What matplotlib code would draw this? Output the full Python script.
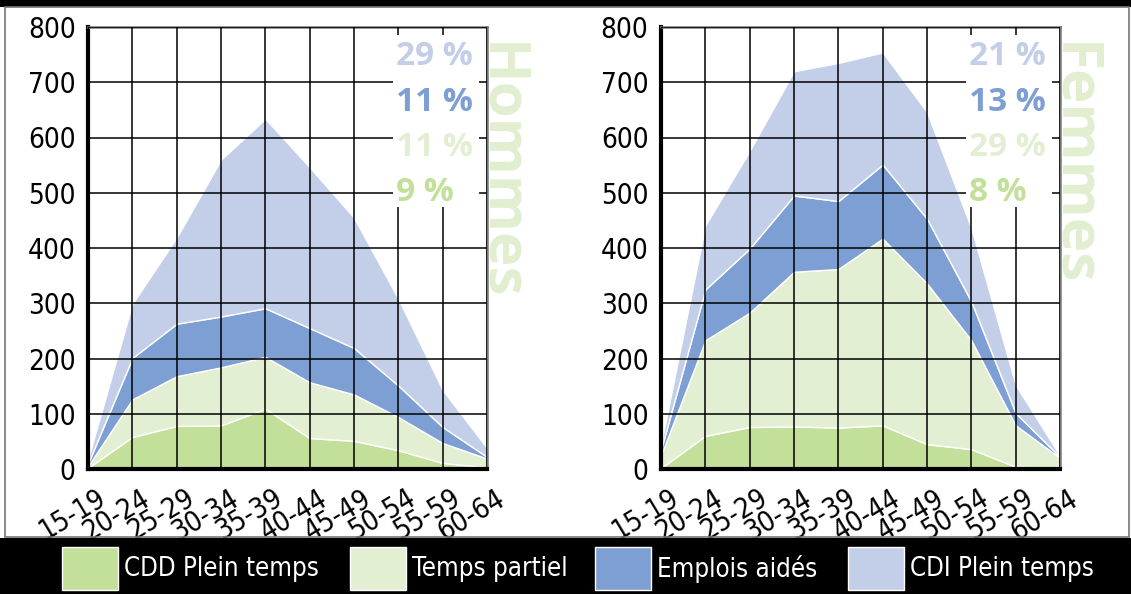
import matplotlib.pyplot as plt
from matplotlib.patches import Rectangle
from matplotlib.transforms import ScaledTranslation

ages = ['15-19', '20-24', '25-29', '30-34', '35-39',
        '40-44', '45-49', '50-54', '55-59', '60-64']
series_names = ['CDD Plein temps', 'Temps partiel', 'Emplois aidés', 'CDI Plein temps']

# Hommes, values per age group
h_cdd = [2, 58, 78, 79, 109, 56, 51, 34, 11, 3]
h_tp = [3, 68, 90, 105, 94, 101, 84, 60, 36, 16]
h_ea = [5, 75, 95, 92, 88, 98, 84, 57, 29, 3]
h_cdi = [8, 98, 156, 284, 343, 291, 236, 157, 67, 16]
h_pct = ['29 %', '11 %', '11 %', '9 %']   # CDI, aidés, partiel, CDD

# Femmes
f_cdd = [2, 60, 76, 77, 75, 79, 45, 36, 4, 2]
f_tp = [23, 173, 207, 280, 287, 338, 291, 197, 75, 18]
f_ea = [10, 92, 116, 138, 123, 134, 117, 70, 22, 2]
f_cdi = [10, 116, 177, 225, 250, 203, 193, 133, 51, 2]
f_pct = ['21 %', '13 %', '29 %', '8 %']

yticks = [0, 100, 200, 300, 400, 500, 600, 700, 800]

c_cdd = '#c3e09b'
c_tp = '#e3efd3'
c_ea = '#7d9fd3'
c_cdi = '#c3cfe8'
colors = [c_cdd, c_tp, c_ea, c_cdi]
pct_colors = [c_cdi, c_ea, c_tp, c_cdd]

fig = plt.figure(figsize=(11.31, 5.94), dpi=100)
fig.patch.set_facecolor('white')

# black bands top and bottom, grey frame
fig.add_artist(Rectangle((0, 1 - 7/594), 1, 7/594, transform=fig.transFigure,
                         facecolor='black', edgecolor='none'))
fig.add_artist(Rectangle((0, 0), 1, 56/594, transform=fig.transFigure,
                         facecolor='black', edgecolor='none'))
fig.add_artist(Rectangle((5/1131, 57/594), 1124/1131, 530/594, transform=fig.transFigure,
                         facecolor='none', edgecolor='#777777', lw=1.2))


def draw(left_px, cdd, tp, ea, cdi, pct, title):
    ax = fig.add_axes([left_px/1131, 125/594, 399/1131, 442/594])
    x = list(range(len(ages)))
    ax.stackplot(x, cdd, tp, ea, cdi, colors=colors, edgecolor='white',
                 linewidth=1.0, zorder=1)
    ax.set_xlim(0, len(ages) - 1)
    ax.set_ylim(0, 800)
    ax.set_yticks(yticks)
    ax.set_xticks(x)
    ax.set_yticklabels([str(v) for v in yticks], fontsize=20,
                       family='DejaVu Sans', stretch='condensed')
    ax.set_xticklabels(ages, fontsize=20, family='DejaVu Sans', stretch='condensed',
                       rotation=31, ha='right', va='top', rotation_mode='anchor')
    ax.tick_params(length=0, pad=9)
    ax.tick_params(axis='x', pad=11)
    shift = ScaledTranslation(8/100, 0, fig.dpi_scale_trans)
    for lab in ax.get_xticklabels():
        lab.set_transform(lab.get_transform() + shift)
    ax.grid(True, color='black', lw=1.1)
    ax.set_axisbelow(False)
    for s in ['left', 'bottom']:
        ax.spines[s].set_linewidth(3)
        ax.spines[s].set_color('black')
    for s in ['top', 'right']:
        ax.spines[s].set_linewidth(1.8)
        ax.spines[s].set_color('#777777')
    ax.add_patch(Rectangle((6.88, 474), 1.94, 311, facecolor='white',
                           edgecolor='none', zorder=3))
    for i, (t, c) in enumerate(zip(pct, pct_colors)):
        ax.text(6.95, 746 - i * 82, t, color=c, fontsize=24, fontweight='bold',
                family='Open Sans', ha='left', va='center', zorder=4)
    ax.text(0.958, 0.966, title, transform=ax.transAxes, rotation=270,
            color='#e1efd0', fontsize=42, fontweight='bold', family='Open Sans',
            ha='left', va='top', zorder=4)
    return ax


draw(88, h_cdd, h_tp, h_ea, h_cdi, h_pct, 'Hommes')
draw(661, f_cdd, f_tp, f_ea, f_cdi, f_pct, 'Femmes')

# legend band
patch_x = [62, 350, 595, 848]
for px, name, c in zip(patch_x, series_names, colors):
    fig.add_artist(Rectangle((px/1131, 4/594), 56/1131, 43/594, transform=fig.transFigure,
                             facecolor=c, edgecolor='white', lw=1))
    fig.text((px + 62)/1131, 25/594, name, color='white', fontsize=18.5,
             family='DejaVu Sans', stretch='condensed', ha='left', va='center')

fig.savefig('out.png', dpi=100)
